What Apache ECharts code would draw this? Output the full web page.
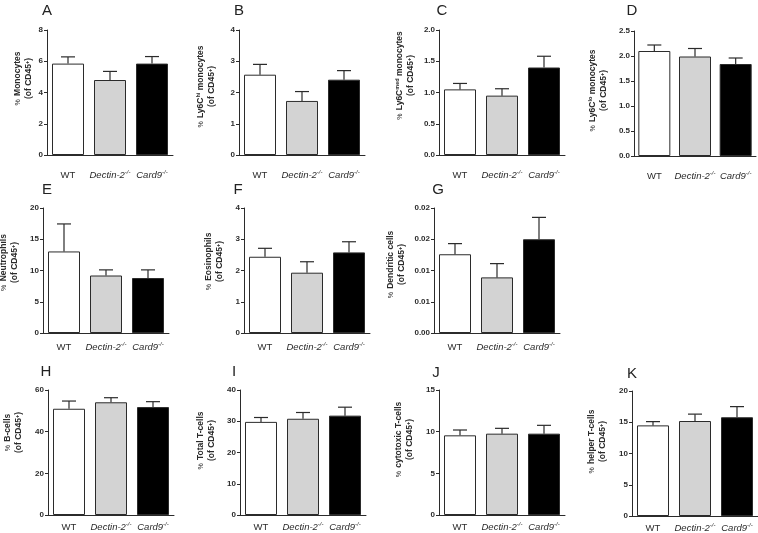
<!DOCTYPE html>
<html>
<head>
<meta charset="utf-8">
<script src="https://cdn.jsdelivr.net/npm/echarts@6.0.0/dist/echarts.min.js"></script>
<style>
  html, body { margin: 0; padding: 0; background: #fff; }
  #chart { width: 758px; height: 533px; }
</style>
</head>
<body>
<div id="chart"></div>
<script>
// groups on every x axis
const categories = ['WT', 'Dectin-2', 'Card9'];

// mean / SEM per panel (% of CD45+)
const monocytesMean = [5.85, 4.8, 5.85];
const monocytesSem = [0.43, 0.55, 0.45];
const ly6cHiMean = [2.57, 1.73, 2.41];
const ly6cHiSem = [0.33, 0.30, 0.29];
const ly6cMedMean = [1.05, 0.95, 1.40];
const ly6cMedSem = [0.095, 0.11, 0.18];
const ly6cLoMean = [2.10, 1.99, 1.84];
const ly6cLoSem = [0.12, 0.16, 0.12];
const neutrophilsMean = [13.05, 9.2, 8.8];
const neutrophilsSem = [4.4, 0.9, 1.3];
const eosinophilsMean = [2.44, 1.93, 2.58];
const eosinophilsSem = [0.27, 0.35, 0.34];
const dendriticMean = [0.0126, 0.0089, 0.0150];
const dendriticSem = [0.0017, 0.0022, 0.0035];
const bCellsMean = [51.0, 54.1, 51.8];
const bCellsSem = [3.7, 2.2, 2.6];
const tCellsMean = [29.8, 30.8, 31.8];
const tCellsSem = [1.4, 2.0, 2.7];
const cytotoxicMean = [9.56, 9.76, 9.76];
const cytotoxicSem = [0.64, 0.64, 1.0];
const helperMean = [14.5, 15.2, 15.8];
const helperSem = [0.6, 1.1, 1.7];

// panel G tick labels are printed rounded to 2 decimals
const dendriticTicks = ['0.00', '0.01', '0.01', '0.02', '0.02'];

const panels = [
  { letter: 'A', name: '{p|%} {b|Monocytes}\n{b|(of CD45}{s|+}{b|)}', mean: monocytesMean, sem: monocytesSem, max: 8, interval: 2 },
  { letter: 'B', name: '{p|%} {b|Ly6C}{s|hi}{b| monocytes}\n{b|(of CD45}{s|+}{b|)}', mean: ly6cHiMean, sem: ly6cHiSem, max: 4, interval: 1 },
  { letter: 'C', name: '{p|%} {b|Ly6C}{s|med}{b| monocytes}\n{b|(of CD45}{s|+}{b|)}', mean: ly6cMedMean, sem: ly6cMedSem, max: 2, interval: 0.5, digits: 1 },
  { letter: 'D', name: '{p|%} {b|Ly6C}{s|lo}{b| monocytes}\n{b|(of CD45}{s|+}{b|)}', mean: ly6cLoMean, sem: ly6cLoSem, max: 2.5, interval: 0.5, digits: 1 },
  { letter: 'E', name: '{p|%} {b|Neutrophils}\n{b|(of CD45}{s|+}{b|)}', mean: neutrophilsMean, sem: neutrophilsSem, max: 20, interval: 5 },
  { letter: 'F', name: '{p|%} {b|Eosinophils}\n{b|(of CD45}{s|+}{b|)}', mean: eosinophilsMean, sem: eosinophilsSem, max: 4, interval: 1 },
  { letter: 'G', name: '{p|%} {b|Dendritic cells}\n{b|(of CD45}{s|+}{b|)}', mean: dendriticMean, sem: dendriticSem, max: 0.02, interval: 0.005, ticks: dendriticTicks },
  { letter: 'H', name: '{p|%} {b|B-cells}\n{b|(of CD45}{s|+}{b|)}', mean: bCellsMean, sem: bCellsSem, max: 60, interval: 20 },
  { letter: 'I', name: '{p|%} {b|Total T-cells}\n{b|(of CD45}{s|+}{b|)}', mean: tCellsMean, sem: tCellsSem, max: 40, interval: 10 },
  { letter: 'J', name: '{p|%} {b|cytotoxic T-cells}\n{b|(of CD45}{s|+}{b|)}', mean: cytotoxicMean, sem: cytotoxicSem, max: 15, interval: 5 },
  { letter: 'K', name: '{p|%} {b|helper T-cells}\n{b|(of CD45}{s|+}{b|)}', mean: helperMean, sem: helperSem, max: 20, interval: 5 },
];

// pixel layout of each panel: y axis x, top, name gap, name shift up, x label margin, letter position
const layout = [
  { left: 47, top: 30, gap: 14, up: 14, margin: 14, lx: 47, ly: 11 },
  { left: 239, top: 30, gap: 23, up: 6, margin: 14, lx: 239, ly: 11 },
  { left: 439, top: 30, gap: 24, up: 17, margin: 14, lx: 442, ly: 11 },
  { left: 634, top: 31, gap: 26, up: 3, margin: 14, lx: 632, ly: 11 },
  { left: 43, top: 208, gap: 24, up: 8, margin: 8, lx: 47, ly: 190 },
  { left: 244, top: 208, gap: 20, up: 9, margin: 8, lx: 238, ly: 190 },
  { left: 434, top: 208, gap: 28, up: 6, margin: 8, lx: 438, ly: 190 },
  { left: 48, top: 390, gap: 25, up: 20, margin: 6, lx: 46, ly: 372 },
  { left: 240, top: 390, gap: 24, up: 12, margin: 6, lx: 234, ly: 372 },
  { left: 439, top: 390, gap: 25, up: 13, margin: 6, lx: 436, ly: 373 },
  { left: 632, top: 391, gap: 25, up: 12, margin: 6, lx: 632, ly: 374 },
];

const barColors = ['#ffffff', '#d3d3d3', '#000000'];
const ink = '#2b2b2b';
const font = 'Liberation Sans, Arial, sans-serif';

const chart = echarts.init(document.getElementById('chart'));

const grid = [];
const xAxis = [];
const yAxis = [];
const series = [];
const graphic = [];

panels.forEach((p, k) => {
  const l = layout[k];
  grid.push({
    left: l.left,
    top: l.top,
    width: k === 3 ? 122 : 126,
    height: 125,
    containLabel: false,
    outerBoundsMode: 'none',
  });
  xAxis.push({
    type: 'category',
    gridIndex: k,
    data: categories,
    axisTick: { show: false },
    axisLine: { lineStyle: { color: ink, width: 1 } },
    axisLabel: {
      margin: l.margin,
      interval: 0,
      color: ink,
      fontFamily: font,
      formatter: (v) => (v === 'WT' ? '{n|WT}' : '{i|' + v + '}{s|-/-}'),
      rich: {
        n: { fontSize: 9.5, fontFamily: font, color: ink, lineHeight: 12 },
        i: { fontSize: 9.5, fontFamily: font, fontStyle: 'italic', color: ink, lineHeight: 12 },
        s: { fontSize: 6, fontFamily: font, fontStyle: 'italic', color: ink, lineHeight: 6, verticalAlign: 'top' },
      },
    },
  });
  yAxis.push({
    type: 'value',
    gridIndex: k,
    min: 0,
    max: p.max,
    interval: p.interval,
    splitLine: { show: false },
    axisLine: { show: true, lineStyle: { color: ink, width: 1 } },
    axisTick: { show: true, length: 3, lineStyle: { color: ink } },
    axisLabel: {
      margin: 4,
      fontSize: 8,
      fontWeight: 'bold',
      color: ink,
      fontFamily: font,
      formatter: (v) => {
        if (p.ticks) return p.ticks[Math.round(v / p.interval)];
        return p.digits ? v.toFixed(p.digits) : String(v);
      },
    },
    name: p.name,
    nameLocation: 'middle',
    nameGap: l.gap,
    nameRotate: 90,
    nameMoveOverlap: false,
    nameTextStyle: {
      color: ink,
      fontFamily: font,
      align: 'center',
      padding: [0, 0, 0, l.up * 2],
      rich: {
        p: { fontSize: 7, fontFamily: font, color: ink, lineHeight: 9 },
        b: { fontSize: 8.5, fontWeight: 'bold', fontFamily: font, color: ink, lineHeight: 9 },
        s: { fontSize: 5.5, fontWeight: 'bold', fontFamily: font, color: ink, lineHeight: 5, verticalAlign: 'top' },
      },
    },
  });
  series.push({
    type: 'bar',
    xAxisIndex: k,
    yAxisIndex: k,
    barWidth: 32,
    data: p.mean.map((v, i) => ({
      value: v,
      itemStyle: { color: barColors[i], borderColor: ink, borderWidth: 1 },
    })),
    silent: true,
  });
  // upper SEM whiskers
  series.push({
    type: 'custom',
    xAxisIndex: k,
    yAxisIndex: k,
    z: 5,
    silent: true,
    data: p.mean.map((v, i) => [i, v, v + p.sem[i]]),
    renderItem: (params, api) => {
      const base = api.coord([api.value(0), api.value(1)]);
      const top = api.coord([api.value(0), api.value(2)]);
      const half = 7;
      const style = { stroke: ink, lineWidth: 1.2 };
      return {
        type: 'group',
        children: [
          { type: 'line', shape: { x1: base[0], y1: base[1], x2: top[0], y2: top[1] }, style },
          { type: 'line', shape: { x1: top[0] - half, y1: top[1], x2: top[0] + half, y2: top[1] }, style },
        ],
      };
    },
  });
  graphic.push({
    type: 'text',
    x: l.lx,
    y: l.ly,
    style: {
      text: p.letter,
      fontSize: 15,
      fontFamily: font,
      fill: '#222',
      textAlign: 'center',
      textVerticalAlign: 'middle',
    },
  });
});

chart.setOption({
  animation: false,
  backgroundColor: '#fff',
  grid,
  xAxis,
  yAxis,
  series,
  graphic,
});
</script>
</body>
</html>
